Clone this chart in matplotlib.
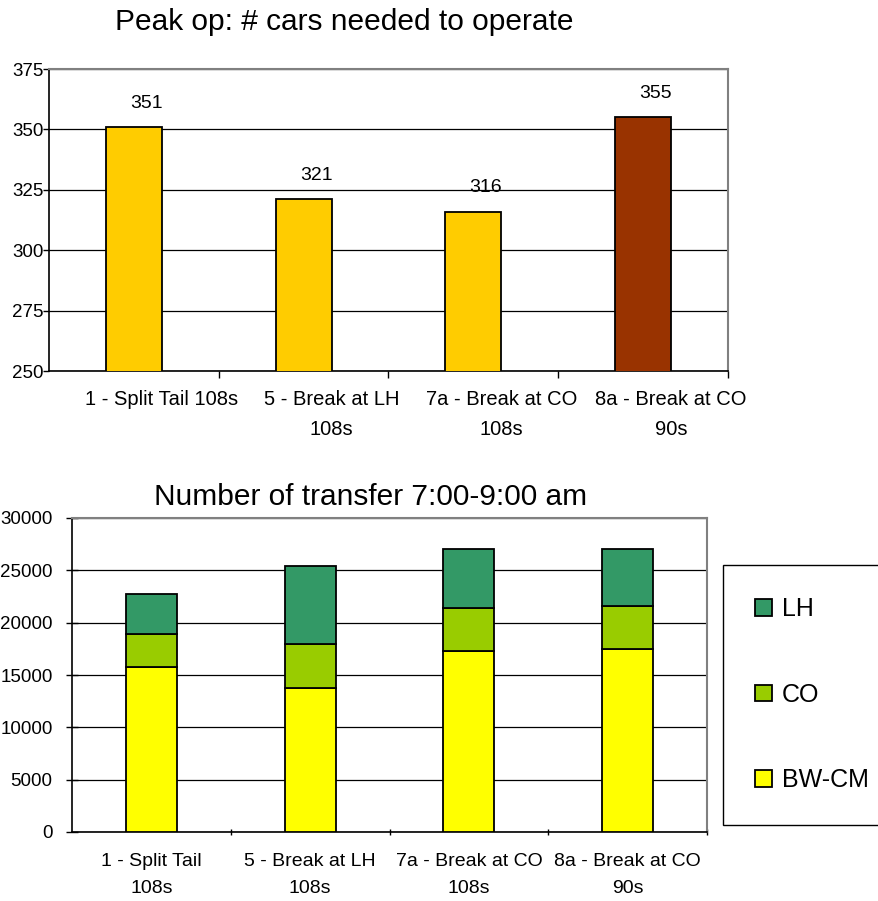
import numpy as np
import matplotlib
matplotlib.use("Agg")
import matplotlib.pyplot as plt
from matplotlib.transforms import ScaledTranslation

plt.rcParams['font.family'] = ['Liberation Sans', 'DejaVu Sans']

# top chart: cars needed
top_labels = ["1 - Split Tail 108s", "5 - Break at LH\n108s", "7a - Break at CO\n108s", "8a - Break at CO\n90s"]
cars = [351, 321, 316, 355]
car_colors = ["#FFCC00", "#FFCC00", "#FFCC00", "#993300"]

# bottom chart: transfers, stacked
bot_labels = ["1 - Split Tail\n108s", "5 - Break at LH\n108s", "7a - Break at CO\n108s", "8a - Break at CO\n90s"]
bw_cm = [15800, 13800, 17300, 17500]
co = [3100, 4200, 4100, 4100]
lh = [3800, 7400, 5600, 5400]

W, H = 879, 901
fig = plt.figure(figsize=(W / 100, H / 100), dpi=100)

def px_axes(l, t, r, b):
    return fig.add_axes([l / W, 1 - b / H, (r - l) / W, (b - t) / H])

def style_axes(ax, tick_dir, ylen, ypad):
    ax.set_xlim(-0.5, 3.5)
    ax.set_xticks([0.5, 1.5, 2.5, 3.5])
    ax.set_xticklabels([])
    ax.tick_params(axis='x', which='major', length=5, direction=tick_dir, width=1)
    ax.tick_params(axis='y', which='major', length=ylen, direction=tick_dir, width=1, pad=ypad, labelsize=13.5)
    ax.yaxis.grid(True, color='black', linewidth=0.9)
    ax.set_axisbelow(True)
    ax.spines['left'].set_linewidth(1.2)
    ax.spines['bottom'].set_linewidth(1.2)
    ax.spines['top'].set_color('#808080')
    ax.spines['right'].set_color('#808080')
    ax.spines['top'].set_linewidth(1.5)
    ax.spines['right'].set_linewidth(1.5)

x = np.arange(4)

# ---- top chart
ax1 = px_axes(49, 69, 728, 371)
ax1.bar(x, cars, width=0.33, color=car_colors, edgecolor='black', linewidth=1.3, zorder=3)
ax1.set_ylim(250, 375)
ax1.set_yticks([250, 275, 300, 325, 350, 375])
style_axes(ax1, 'out', 4, 0)
ax1.set_xticks(x, minor=True)
ax1.set_xticklabels(top_labels, minor=True, fontsize=14.5, linespacing=1.7)
ax1.tick_params(axis='x', which='minor', length=0, pad=14)
shift = ScaledTranslation(0.28, 0, fig.dpi_scale_trans)
for lab in ax1.get_xticklabels(minor=True):
    lab.set_transform(lab.get_transform() + shift)
for xi, v in zip(x, cars):
    ax1.annotate(str(v), (xi, v), xytext=(9, 17), textcoords='offset points',
                 ha='center', va='center', fontsize=14)

fig.text(344 / W, 1 - 30 / H, "Peak op: # cars needed to operate", fontsize=21.5,
         ha='center', va='baseline')

# ---- bottom chart
ax2 = px_axes(72, 518, 707, 832)
b1 = ax2.bar(x, bw_cm, width=0.32, color='#FFFF00', edgecolor='black', linewidth=1.3, zorder=3, label='BW-CM')
b2 = ax2.bar(x, co, width=0.32, bottom=bw_cm, color='#99CC00', edgecolor='black', linewidth=1.3, zorder=3, label='CO')
b3 = ax2.bar(x, lh, width=0.32, bottom=np.add(bw_cm, co), color='#339966', edgecolor='black', linewidth=1.3, zorder=3, label='LH')
ax2.set_ylim(0, 30000)
ax2.set_yticks(np.arange(0, 30001, 5000))
style_axes(ax2, 'inout', 8, 10)
ax2.set_xticks(x, minor=True)
ax2.set_xticklabels(bot_labels, minor=True, fontsize=14, linespacing=1.75)
ax2.tick_params(axis='x', which='minor', length=0, pad=15)

fig.text(371 / W, 1 - 505 / H, "Number of transfer 7:00-9:00 am", fontsize=21.5,
         ha='center', va='baseline')

leg = fig.legend([b3, b2, b1], ["LH", "CO", "BW-CM"], loc='upper left',
                 bbox_to_anchor=(723 / W, 1 - 565 / H), borderaxespad=0,
                 fontsize=18, labelspacing=2.45, borderpad=1.3,
                 handlelength=0.65, handleheight=0.65, handletextpad=0.4,
                 fancybox=False, framealpha=1)
leg.get_frame().set_edgecolor('black')
leg.get_frame().set_linewidth(1.0)

fig.savefig("out.png", dpi=100)
